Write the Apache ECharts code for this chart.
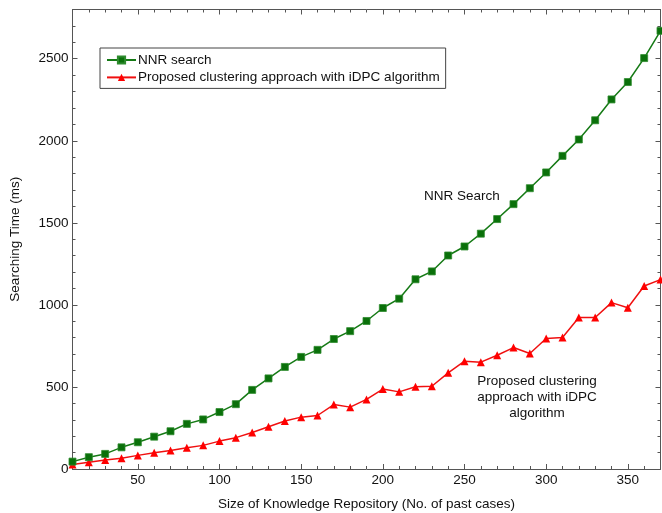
<!DOCTYPE html>
<html>
<head>
<meta charset="utf-8">
<script src="https://cdn.jsdelivr.net/npm/echarts@6/dist/echarts.min.js"></script>
<style>
  html, body { margin: 0; padding: 0; background: #fff; }
  #chart { width: 662px; height: 513px; }
</style>
</head>
<body>
<div id="chart"></div>
<script>
// Repository sizes (number of past cases)
const caseCounts = [10, 20, 30, 40, 50, 60, 70, 80, 90, 100, 110, 120, 130, 140, 150, 160, 170, 180, 190,
  200, 210, 220, 230, 240, 250, 260, 270, 280, 290, 300, 310, 320, 330, 340, 350, 360, 370];

// Searching time (ms) of plain NNR search
const nnrTimes = [45, 72, 92, 132, 163, 197, 230, 275, 302, 347, 395, 482, 552, 622, 683, 726, 792, 840, 902,
  981, 1038, 1156, 1204, 1301, 1356, 1434, 1523, 1614, 1711, 1807, 1908, 2008, 2125, 2252, 2358, 2504, 2670];

// Searching time (ms) of the clustering approach with iDPC
const idpcTimes = [28, 41, 55, 65, 83, 99, 113, 130, 144, 170, 191, 222, 257, 292, 316, 326, 393, 377, 424,
  487, 470, 501, 504, 586, 657, 651, 693, 740, 704, 795, 801, 923, 923, 1014, 983, 1115, 1154];

// Tick positions
const xMajorTicks = [50, 100, 150, 200, 250, 300, 350];
const xMinorTicks = [20, 30, 40, 60, 70, 80, 90, 110, 120, 130, 140, 160, 170, 180, 190, 210, 220, 230, 240,
  260, 270, 280, 290, 310, 320, 330, 340, 360];
const yMajorTicks = [0, 500, 1000, 1500, 2000, 2500];
const yMinorTicks = [100, 200, 300, 400, 600, 700, 800, 900, 1100, 1200, 1300, 1400, 1600, 1700, 1800, 1900,
  2100, 2200, 2300, 2400, 2600, 2700];

const X_MIN = 10, X_MAX = 370, Y_MIN = 0, Y_MAX = 2800;
const FONT = '"Liberation Sans", Arial, sans-serif';
const AXIS_COLOR = '#555';

function xAxisDef(position, ticks, len, showLine, showLabels, name) {
  return {
    type: 'value', position: position, min: X_MIN, max: X_MAX,
    name: name || '', nameLocation: 'middle', nameGap: 28,
    nameTextStyle: { fontFamily: FONT, fontSize: 13.5, color: '#111' },
    axisLine: { show: showLine, onZero: false, lineStyle: { color: AXIS_COLOR, width: 1 } },
    axisTick: { show: true, inside: true, length: len, customValues: ticks, lineStyle: { color: AXIS_COLOR } },
    axisLabel: {
      show: showLabels, customValues: ticks, margin: 4, fontFamily: FONT, fontSize: 13.5, color: '#111',
      formatter: v => String(v)
    },
    splitLine: { show: false }
  };
}
function yAxisDef(position, ticks, len, showLine, showLabels, name) {
  return {
    type: 'value', position: position, min: Y_MIN, max: Y_MAX,
    name: name || '', nameLocation: 'middle', nameGap: 50, nameRotate: 90,
    nameTextStyle: { fontFamily: FONT, fontSize: 13.5, color: '#111' },
    axisLine: { show: showLine, onZero: false, lineStyle: { color: AXIS_COLOR, width: 1 } },
    axisTick: { show: true, inside: true, length: len, customValues: ticks, lineStyle: { color: AXIS_COLOR } },
    axisLabel: {
      show: showLabels, customValues: ticks, margin: 4, fontFamily: FONT, fontSize: 13.5, color: '#111',
      formatter: v => String(v)
    },
    splitLine: { show: false }
  };
}

const chart = echarts.init(document.getElementById('chart'), null, { renderer: 'canvas' });

chart.setOption({
  animation: false,
  backgroundColor: '#fff',
  grid: { left: 72.5, right: 1.5, top: 9.5, bottom: 44, containLabel: false, outerBoundsMode: 'none' },
  legend: {
    orient: 'vertical', left: 100, top: 48,
    padding: [5, 6, 4, 6], itemGap: 3.4, itemWidth: 29, itemHeight: 9,
    borderColor: '#444', borderWidth: 1, backgroundColor: '#fff',
    textStyle: { fontFamily: FONT, fontSize: 13.5, lineHeight: 14, color: '#111', padding: [0, 0, 0, -3] },
    data: ['NNR search', 'Proposed clustering approach with iDPC algorithm']
  },
  xAxis: [
    xAxisDef('bottom', xMajorTicks, 5, true, true, 'Size of Knowledge Repository (No. of past cases)'),
    xAxisDef('bottom', xMinorTicks, 3, false, false),
    xAxisDef('top', xMajorTicks, 5, true, false),
    xAxisDef('top', xMinorTicks, 3, false, false)
  ],
  yAxis: [
    yAxisDef('left', yMajorTicks, 5, true, true, 'Searching Time (ms)'),
    yAxisDef('left', yMinorTicks, 3, false, false),
    yAxisDef('right', yMajorTicks, 5, true, false),
    yAxisDef('right', yMinorTicks, 3, false, false)
  ],
  series: [
    {
      name: 'NNR search', type: 'line', xAxisIndex: 0, yAxisIndex: 0,
      data: caseCounts.map((c, i) => [c, nnrTimes[i]]),
      symbol: 'rect', symbolSize: 7, clip: false,
      lineStyle: { color: '#157a15', width: 1.5 },
      itemStyle: { color: '#0a700a', borderColor: '#2e8b2e', borderWidth: 0.8 },
      z: 3
    },
    {
      name: 'Proposed clustering approach with iDPC algorithm', type: 'line', xAxisIndex: 0, yAxisIndex: 0,
      data: caseCounts.map((c, i) => [c, idpcTimes[i]]),
      symbol: 'triangle', symbolSize: 8, clip: false,
      lineStyle: { color: '#f01010', width: 1.5 },
      itemStyle: { color: '#ff0000', borderColor: '#ff0000', borderWidth: 0 },
      z: 2
    }
  ],
  graphic: [
    {
      type: 'text', left: 424, top: 189,
      style: { text: 'NNR Search', font: '13.5px ' + FONT, fill: '#111' }
    },
    {
      type: 'text', x: 537, y: 373,
      style: {
        text: 'Proposed clustering\napproach with iDPC\nalgorithm',
        font: '13.5px ' + FONT, fill: '#111', align: 'center', lineHeight: 16
      }
    }
  ]
});
</script>
</body>
</html>
